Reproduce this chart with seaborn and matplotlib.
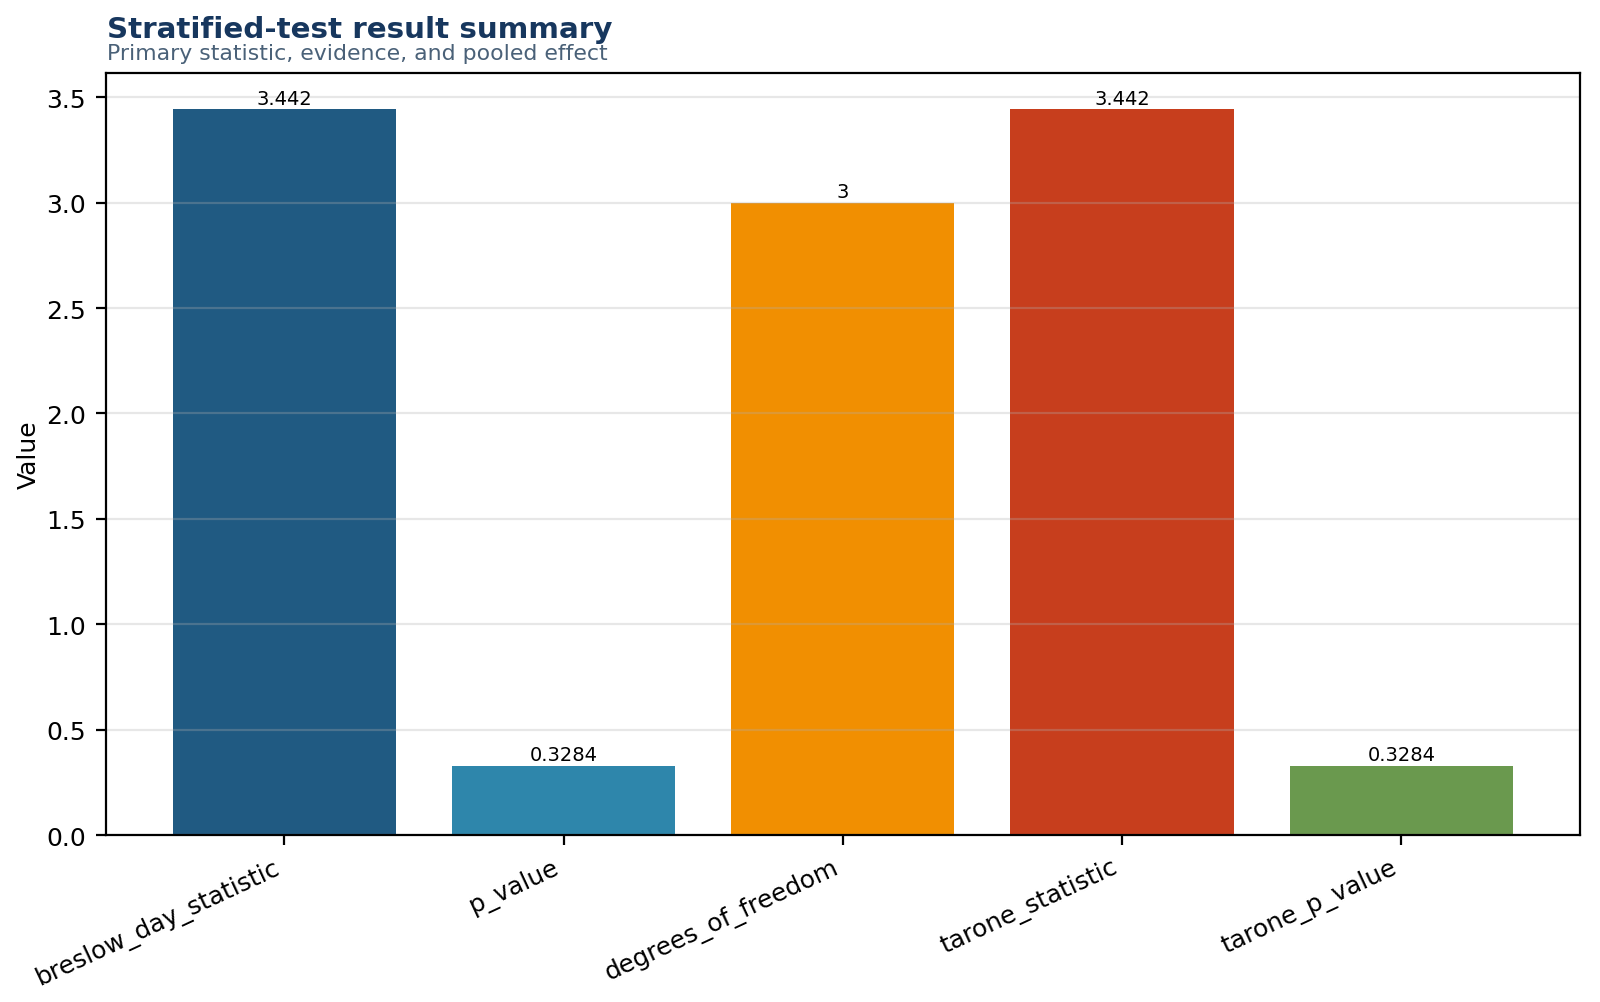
import pandas as pd
import seaborn as sns
import matplotlib.pyplot as plt

# Dữ liệu kết quả kiểm định
metrics = ["breslow_day_statistic", "p_value", "degrees_of_freedom",
           "tarone_statistic", "tarone_p_value"]
values = [3.442, 0.3284, 3, 3.442, 0.3284]
labels = ["3.442", "0.3284", "3", "3.442", "0.3284"]
colors = ["#205A82", "#2E86AB", "#F18F01", "#C73E1D", "#6A994E"]

df = pd.DataFrame({"metric": metrics, "value": values})

fig = plt.figure(figsize=(8, 5.015), dpi=200)
ax = fig.add_axes([0.066, 0.1665, 0.9215, 0.7595])

sns.barplot(
    data=df, x="metric", y="value", hue="metric",
    palette=colors, saturation=1, legend=False, width=0.8, ax=ax
)

for container, lab in zip(ax.containers, labels):
    ax.bar_label(container, labels=[lab], fontsize=7, padding=0.5)

ax.set_xlim(-0.64, len(metrics) - 0.36)
ax.grid(axis="y", color="#b0b0b0", alpha=0.3, linewidth=0.8)
ax.set_xlabel("")
ax.set_ylabel("Value", fontsize=9, labelpad=2)
ax.tick_params(axis="both", labelsize=9)
plt.setp(ax.get_xticklabels(), rotation=25, ha="right")

fig.text(0.067, 0.962, "Stratified-test result summary", fontsize=10.6,
         fontweight="bold", color="#17375E")
fig.text(0.067, 0.94, "Primary statistic, evidence, and pooled effect",
         fontsize=7.95, color="#4A6178")

fig.savefig("out.png", dpi=200)
